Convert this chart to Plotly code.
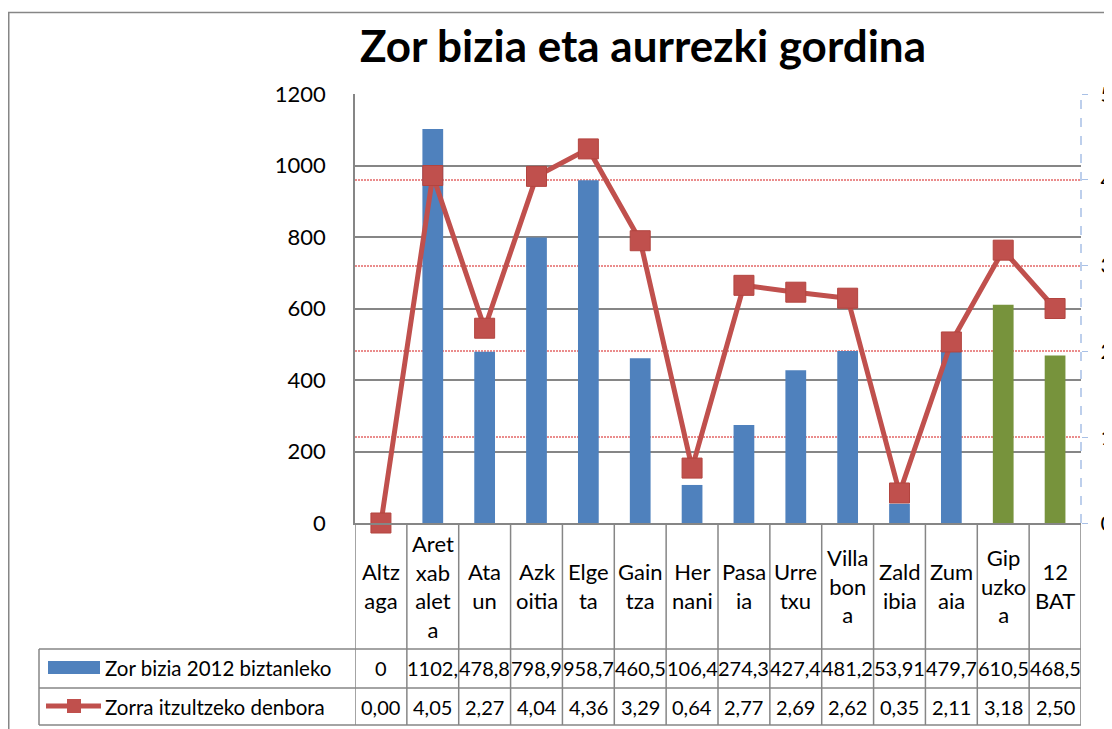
import plotly.graph_objects as go

# ---------------- data ----------------
categories = ["Altzaga", "Aretxabaleta", "Ataun", "Azkoitia", "Elgeta", "Gaintza", "Hernani",
              "Pasaia", "Urretxu", "Villabona", "Zaldibia", "Zumaia", "Gipuzkoa", "12 BAT"]
category_labels = ["Altz<br>aga", "Aret<br>xab<br>alet<br>a", "Ata<br>un", "Azk<br>oitia", "Elge<br>ta",
                   "Gain<br>tza", "Her<br>nani", "Pasa<br>ia", "Urre<br>txu", "Villa<br>bon<br>a",
                   "Zald<br>ibia", "Zum<br>aia", "Gip<br>uzko<br>a", "12<br>BAT"]
debt_per_capita = [0, 1102.4, 478.8, 798.9, 958.7, 460.5, 106.4, 274.3, 427.4, 481.2, 53.91, 479.7, 610.5, 468.5]
payback_years = [0.00, 4.05, 2.27, 4.04, 4.36, 3.29, 0.64, 2.77, 2.69, 2.62, 0.35, 2.11, 3.18, 2.50]
series_names = ["Zor bizia 2012 biztanleko", "Zorra itzultzeko denbora"]
title_text = "Zor bizia eta aurrezki gordina"
left_ticks = [0, 200, 400, 600, 800, 1000, 1200]
right_ticks = [0, 1, 2, 3, 4, 5]

BLUE = "#4F81BD"
GREEN = "#77933C"
RED = "#C0504D"
GRAY = "#868686"
FONT = "Lato"

bar_colors = [GREEN if c in ("Gipuzkoa", "12 BAT") else BLUE for c in categories]


def fmt_bar(v):
    s = ("%g" % v).replace(".", ",")
    if "," in s and len(s) > 5:
        s = s[:5]
    return s


def fmt_line(v):
    return ("%.2f" % v).replace(".", ",")


# ---------------- geometry (pixels, in window coordinates) ----------------
OFF = 8                      # default page body margin
W, H = 1112 - OFF, 729 - OFF  # figure size
PL, PR, PT, PB = 355, 1081, 94, 523


def px_x(x):
    return (x - PL) / (PR - PL)


def px_y(y):
    return (PB - y) / (PB - PT)


fig = go.Figure()
fig.add_trace(go.Bar(x=categories, y=debt_per_capita, marker=dict(color=bar_colors, line=dict(width=0)),
                     width=0.4, name=series_names[0], yaxis="y"))
fig.add_trace(go.Scatter(x=categories, y=payback_years, mode="lines+markers", name=series_names[1],
                         line=dict(color=RED, width=5), cliponaxis=False,
                         marker=dict(symbol="square", size=20, color=RED,
                                     line=dict(color="#B3443F", width=1)),
                         yaxis="y2"))

shapes = []
annotations = []

# table geometry
row_top, row_mid, row_bot = 649, 688, 725
for i in range(len(categories) + 1):
    shapes.append(dict(type="line", xref="x", yref="paper", x0=i - 0.5, x1=i - 0.5,
                       y0=px_y(row_bot), y1=0, line=dict(color=GRAY, width=1.5)))
for yy in (row_top, row_mid, row_bot):
    shapes.append(dict(type="line", xref="paper", yref="paper", x0=px_x(39), x1=1,
                       y0=px_y(yy), y1=px_y(yy), line=dict(color=GRAY, width=1.5)))
shapes.append(dict(type="line", xref="paper", yref="paper", x0=px_x(39), x1=px_x(39),
                   y0=px_y(row_bot), y1=px_y(row_top), line=dict(color=GRAY, width=1.5)))

# outer chart frame
shapes.append(dict(type="rect", xref="paper", yref="paper", x0=px_x(8.75), x1=px_x(1200),
                   y0=px_y(800), y1=px_y(12.5), line=dict(color=GRAY, width=1.5)))

# secondary axis dashed line
shapes.append(dict(type="line", xref="paper", yref="paper", x0=1, x1=1, y0=0, y1=1,
                   line=dict(color="#A8C0E6", width=1.5, dash="dash")))

# legend keys
shapes.append(dict(type="rect", xref="paper", yref="paper", x0=px_x(48), x1=px_x(100),
                   y0=px_y(674), y1=px_y(661), fillcolor=BLUE, line=dict(width=0)))
shapes.append(dict(type="line", xref="paper", yref="paper", x0=px_x(46), x1=px_x(101),
                   y0=px_y(706), y1=px_y(706), line=dict(color=RED, width=5)))
shapes.append(dict(type="rect", xref="paper", yref="paper", x0=px_x(67), x1=px_x(81),
                   y0=px_y(713), y1=px_y(699), fillcolor=RED, line=dict(width=0)))

# category labels
for c, lab in zip(categories, category_labels):
    annotations.append(dict(x=c, y=px_y(586), xref="x", yref="paper", text=lab, showarrow=False,
                            font=dict(family=FONT, size=22, color="black"), align="center",
                            xanchor="center", yanchor="middle"))
# values
for c, v, w in zip(categories, debt_per_capita, payback_years):
    annotations.append(dict(x=c, y=px_y(668), xref="x", yref="paper", text=fmt_bar(v), showarrow=False,
                            font=dict(family=FONT, size=20, color="black"), xanchor="center", yanchor="middle"))
    annotations.append(dict(x=c, y=px_y(707), xref="x", yref="paper", text=fmt_line(w), showarrow=False,
                            font=dict(family=FONT, size=20, color="black"), xanchor="center", yanchor="middle"))
# row headers
annotations.append(dict(x=px_x(103), y=px_y(668), xref="paper", yref="paper", text=series_names[0],
                        showarrow=False, font=dict(family=FONT, size=20.5, color="black"),
                        xanchor="left", yanchor="middle"))
annotations.append(dict(x=px_x(103), y=px_y(707), xref="paper", yref="paper", text=series_names[1],
                        showarrow=False, font=dict(family=FONT, size=20.5, color="black"),
                        xanchor="left", yanchor="middle"))

fig.update_layout(
    width=W, height=H,
    margin=dict(l=PL - OFF, r=W - (PR - OFF), t=PT - OFF, b=H - (PB - OFF), autoexpand=False),
    paper_bgcolor="white", plot_bgcolor="white",
    showlegend=False,
    title=dict(text="<b>" + title_text + "</b>", x=(643 - OFF) / W, xref="container", xanchor="center",
               y=1 - (47 - OFF) / H, yref="container", yanchor="middle",
               font=dict(family=FONT, size=44, color="black")),
    xaxis=dict(type="category", showticklabels=False, showgrid=False, ticks="",
               showline=True, linecolor=GRAY, linewidth=1.5, range=[-0.5, len(categories) - 0.5]),
    yaxis=dict(range=[0, 1200], tickvals=left_ticks, showgrid=True, gridcolor=GRAY, gridwidth=1.5,
               showline=True, linecolor=GRAY, linewidth=1.5, zeroline=False, ticks="",
               ticklabelstandoff=23, tickfont=dict(family=FONT, size=22, color="black")),
    yaxis2=dict(range=[0, 5], tickvals=right_ticks, overlaying="y", side="right", showgrid=True,
                gridcolor="#EA8C8C", gridwidth=1.5, griddash="2px,1px", zeroline=False,
                showline=False, ticks="outside", ticklen=6, tickcolor="#A8C0E6",
                ticklabelstandoff=8, tickfont=dict(family=FONT, size=22, color="black")),
    shapes=shapes,
    annotations=annotations,
)

fig.write_html("out.html")
